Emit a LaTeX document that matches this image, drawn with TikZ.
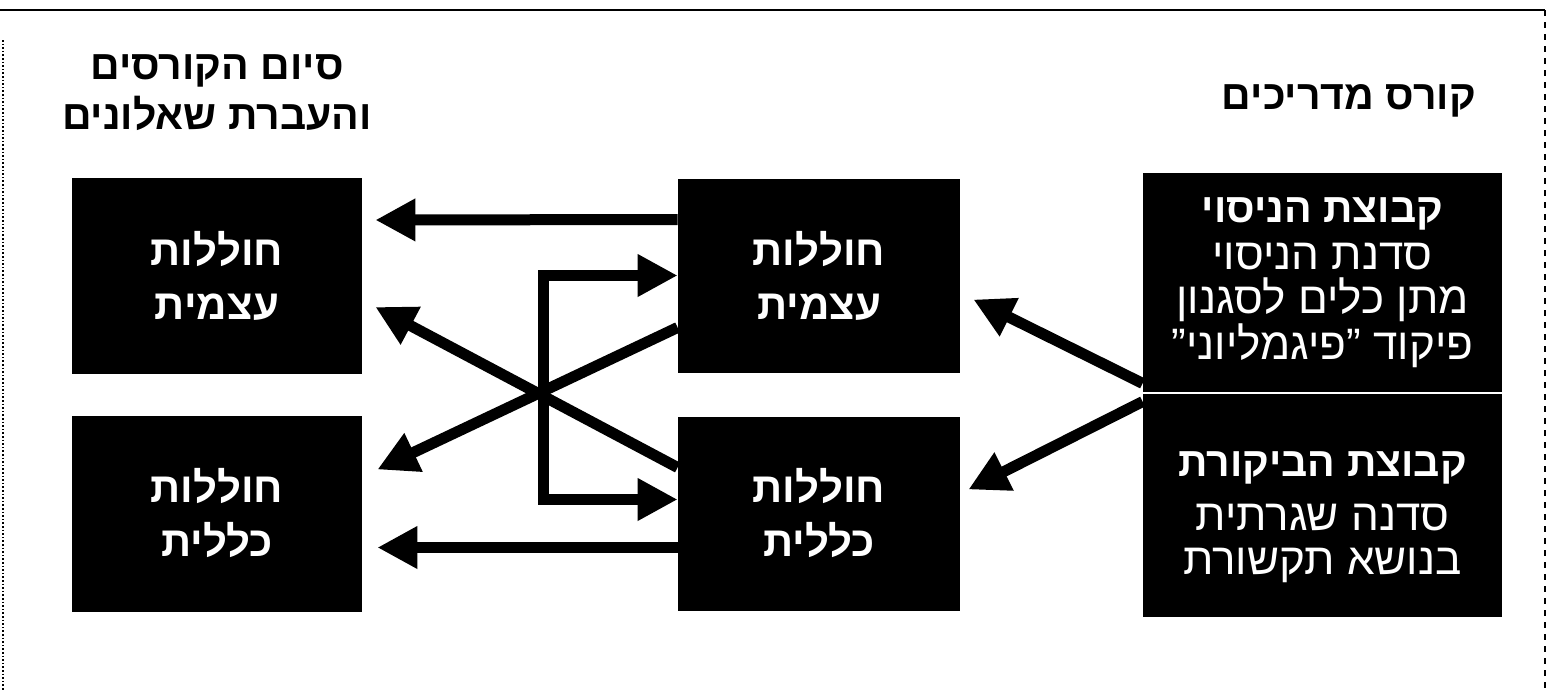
\documentclass[tikz,border=0pt]{standalone}
\usepackage{fontspec}
\usetikzlibrary{positioning,arrows.meta}
\TeXXeTstate=1
\newfontfamily\hebfont[Script=Hebrew]{Liberation Sans}
\newcommand{\heb}[1]{\beginR #1\endR}
\newcommand{\head}[1]{{\bfseries\fontsize{20.5}{24}\selectfont\beginR #1\endR}}
\tikzset{%
  every box/.style={
    fill=black,
    text=white,
    align=center,
    inner sep=0pt,
    font=\hebfont\bfseries\fontsize{21}{27}\selectfont
  },
  box end/.style={minimum width=145pt, minimum height=98pt},
  box mid/.style={minimum width=141pt, minimum height=97pt},
  box group/.style={
    minimum width=179.5pt,
    font=\hebfont\fontsize{22}{22}\selectfont
  },
  title/.style={
    align=center,
    font=\hebfont\bfseries\fontsize{20.5}{25}\selectfont
  },
  link/.style={line width=5.5pt},
}

\begin{document}
\begin{tikzpicture}[x=0.5pt, y=-0.5pt, >={Triangle[length=20pt,width=20pt]}]

\useasboundingbox (0,0) rectangle (1551,691);

% frame
\draw [line width=1.2pt] (0,10) -- (1545,10);
\draw [line width=0.8pt, dashed] (1545,10) -- (1545,691);
\draw [line width=0.8pt, densely dotted] (3,40) -- (3,691);

% titles
\node [title] (title-end) at (217,93) {\heb{סיום הקורסים}\\\heb{והעברת שאלונים}};
\node [title] (title-start) at (1349,101) {\heb{קורס מדריכים}};

% boxes
\foreach \n/\w [count=\y] in {1/עצמית,2/כללית}
  \node [every box/.try, box end] (end-\n) at (217,{276+237.5*(\y-1)}) {\heb{חוללות}\\\heb{\w}};

\foreach \n/\w [count=\y] in {1/עצמית,2/כללית}
  \node [every box/.try, box mid] (mid-\n) at (819,{275.5+238*(\y-1)}) {\heb{חוללות}\\\heb{\w}};

\node [every box/.try, box group, minimum height=109.5pt] (test) at (1322.5,282.5)
  {\head{קבוצת הניסוי}\\[1.5pt]\heb{סדנת הניסוי}\\\heb{מתן כלים לסגנון}\\\heb{פיקוד ”פיגמליוני”}};
\node [every box/.try, box group, minimum height=111.5pt] (control) at (1322.5,505.5)
  {\rule{0pt}{24pt}\head{קבוצת הביקורת}\\[5pt]\heb{סדנה שגרתית}\\\heb{בנושא תקשורת}};

% arrows
\draw [link, ->] ([yshift=4.5pt]test.south west) -- ([xshift=6.5pt,yshift=-12pt]mid-1.east);
\draw [link, ->] ([yshift=-4pt]control.north west) -- ([xshift=4pt,yshift=12pt]mid-2.east);

\draw [link, ->] ([yshift=28pt]mid-1.west) -- ([xshift=6.5pt,yshift=28pt]end-1.east);
\draw [link, ->] ([yshift=-17pt]mid-2.west) -- ([xshift=7.5pt,yshift=-17pt]end-2.east);
\draw [link, ->] ([yshift=-26pt]mid-1.west) -- ([xshift=7.5pt,yshift=22pt]end-2.east);
\draw [link, ->] ([yshift=23pt]mid-2.west) -- ([xshift=6.5pt,yshift=-15.5pt]end-1.east);

\coordinate (cross) at (543,393);
\draw [link, <->] (mid-1.west) -| (cross) |- ([yshift=7pt]mid-2.west);

\end{tikzpicture}
\end{document}
